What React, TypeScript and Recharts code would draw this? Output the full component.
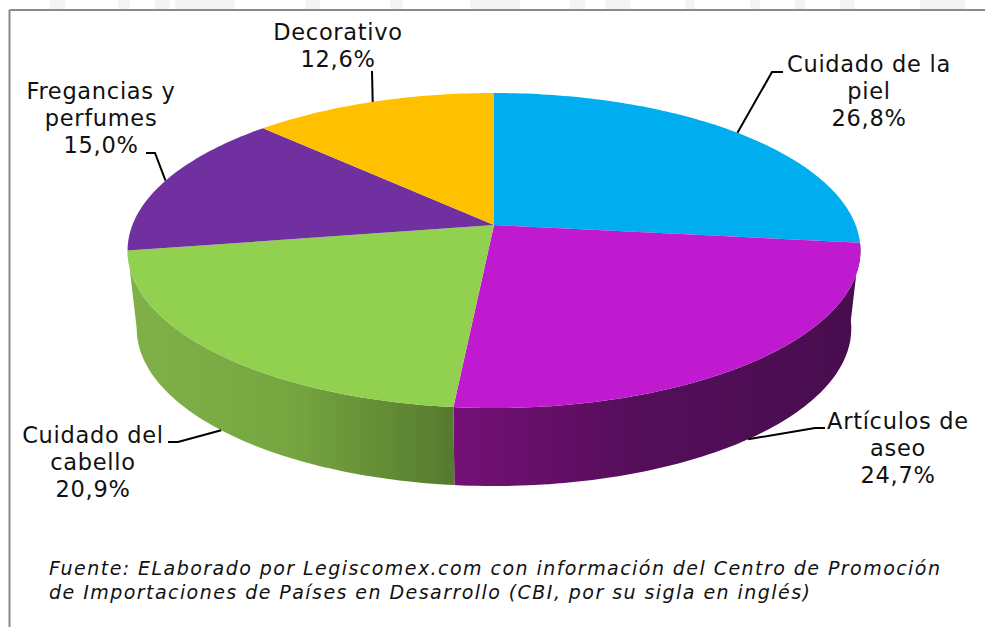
import React from "react";
import { PieChart, Pie, Cell } from "recharts";

const categories = ["Cuidado de la piel", "Artículos de aseo", "Cuidado del cabello", "Fregancias y perfumes", "Decorativo"];
const shares = [26.8, 24.7, 20.9, 15.0, 12.6];
const labelLines = [
  ["Cuidado de la", "piel", "26,8%"],
  ["Artículos de", "aseo", "24,7%"],
  ["Cuidado del", "cabello", "20,9%"],
  ["Fregancias y", "perfumes", "15,0%"],
  ["Decorativo", "12,6%"],
];
const sliceColors = ["#00aeef", "#c01ad0", "#92d050", "#7030a0", "#ffc000"];
const wallColors = ["none", "url(#wallMagenta)", "url(#wallGreen)", "none", "none"];
const footnote = [
  "Fuente: ELaborado por Legiscomex.com con información del Centro de Promoción",
  "de Importaciones de Países en Desarrollo (CBI, por su sigla en inglés)",
];

const data = categories.map((name, i) => ({ name, value: shares[i] }));

// label block anchor (centre x, first baseline) and the elbow of each leader line
const labelPos = [
  { x: 869, y: 72, elbow: [772, 72], end: [783, 72] },
  { x: 898, y: 429, elbow: [815, 428], end: [825, 428] },
  { x: 93, y: 443, elbow: [178, 442], end: [168, 442] },
  { x: 101, y: 99, elbow: [155, 153], end: [146, 153] },
  { x: 338, y: 40, elbow: [372, 71], end: [372, 71] },
];

// bottoms of the faint watermark letters cut off above the frame: [x, width]
const watermark = [
  [50, 15], [118, 12], [155, 15], [175, 60], [305, 15], [390, 13], [470, 50],
  [570, 15], [605, 25], [685, 10], [750, 10], [795, 10], [840, 15], [920, 45],
];

const FONT = "'DejaVu Sans', Verdana, sans-serif";
const TILT = 0.4242;
const PERSPECTIVE = 0.162;
const WALL_DROP = 78;
const WALL_SHRINK = 0.975;
const RAD = Math.PI / 180;

// the library gives a flat circle sector, this tips it back in perspective
function project(cx: number, cy: number, r: number, angle: number) {
  const u = Math.cos(angle * RAD);
  const v = Math.sin(angle * RAD);
  const d = 1 + PERSPECTIVE * v;
  return { x: cx + (r * u) / d, y: cy - (r * TILT * v) / d };
}

function toWall(p: { x: number; y: number }, cx: number) {
  return { x: cx + (p.x - cx) * WALL_SHRINK, y: p.y + WALL_DROP };
}

function sampleAngles(start: number, end: number) {
  const n = Math.max(2, Math.ceil(Math.abs(end - start)));
  return Array.from({ length: n + 1 }, (_, i) => start + ((end - start) * i) / n);
}

function TopSlice(props: any) {
  const { cx, cy, outerRadius, startAngle, endAngle, fill } = props;
  const pts = sampleAngles(startAngle, endAngle).map((a) => project(cx, cy, outerRadius, a));
  const d = `M${cx},${cy} ` + pts.map((p) => `L${p.x.toFixed(2)},${p.y.toFixed(2)}`).join(" ") + " Z";
  return <path d={d} fill={fill} stroke="none" />;
}

function WallSlice(props: any) {
  const { cx, cy, outerRadius, startAngle, endAngle, fill } = props;
  if (fill === "none") return <g />;
  const top = sampleAngles(startAngle, endAngle).map((a) => project(cx, cy, outerRadius, a));
  const bottom = top.map((p) => toWall(p, cx)).reverse();
  const d = [...top, ...bottom].map((p, i) => `${i ? "L" : "M"}${p.x.toFixed(2)},${p.y.toFixed(2)}`).join(" ") + " Z";
  return <path d={d} fill={fill} stroke="none" />;
}

function SliceLabel(props: any) {
  const { cx, cy, outerRadius, midAngle, index } = props;
  const pos = labelPos[index];
  const onWall = index === 1 || index === 2;
  const rim = project(cx, cy, outerRadius, midAngle);
  const start = onWall ? toWall(rim, cx) : rim;
  return (
    <g>
      <polyline
        points={`${start.x},${start.y} ${pos.elbow[0]},${pos.elbow[1]} ${pos.end[0]},${pos.end[1]}`}
        fill="none"
        stroke="#000"
        strokeWidth={2}
      />
      <text x={pos.x} y={pos.y} textAnchor="middle" fontFamily={FONT} fontSize={22.5} letterSpacing={0.7} fill="#111">
        {labelLines[index].map((line, i) => (
          <tspan key={i} x={pos.x} dy={i === 0 ? 0 : 27}>
            {line}
          </tspan>
        ))}
      </text>
    </g>
  );
}

export default function App() {
  return (
    <div style={{ position: "absolute", left: 0, top: 0, width: 985, height: 627, background: "#fff" }}>
      <PieChart width={985} height={627} margin={{ top: 0, right: 0, bottom: 0, left: 0 }}>
        <defs>
          <linearGradient id="wallMagenta" gradientUnits="userSpaceOnUse" x1={453} y1={0} x2={860} y2={0}>
            <stop offset="0%" stopColor="#751077" />
            <stop offset="45%" stopColor="#550e5a" />
            <stop offset="100%" stopColor="#470d4e" />
          </linearGradient>
          <linearGradient id="wallGreen" gradientUnits="userSpaceOnUse" x1={130} y1={0} x2={453} y2={0}>
            <stop offset="0%" stopColor="#80b048" />
            <stop offset="50%" stopColor="#76a640" />
            <stop offset="100%" stopColor="#567a2e" />
          </linearGradient>
        </defs>
        {watermark.map(([x, w]) => (
          <rect key={x} x={x} y={0} width={w} height={9} fill="#f4f4f4" />
        ))}
        <line x1={9.5} y1={10} x2={985} y2={10} stroke="#8a8a8a" strokeWidth={2} />
        <line x1={9.5} y1={10} x2={9.5} y2={627} stroke="#8a8a8a" strokeWidth={2} />
        <Pie
          data={data}
          dataKey="value"
          cx={494}
          cy={225}
          outerRadius={361.6}
          startAngle={90}
          endAngle={-270}
          stroke="none"
          isAnimationActive={false}
          shape={WallSlice}
          label={false}
          labelLine={false}
        >
          {data.map((d, i) => (
            <Cell key={d.name} fill={wallColors[i]} />
          ))}
        </Pie>
        <Pie
          data={data}
          dataKey="value"
          cx={494}
          cy={225}
          outerRadius={361.6}
          startAngle={90}
          endAngle={-270}
          stroke="none"
          isAnimationActive={false}
          shape={TopSlice}
          label={SliceLabel}
          labelLine={false}
        >
          {data.map((d, i) => (
            <Cell key={d.name} fill={sliceColors[i]} />
          ))}
        </Pie>
        <text x={49} y={575} fontFamily={FONT} fontStyle="italic" fontSize={19} letterSpacing={1.45} fill="#111">
          <tspan x={49}>{footnote[0]}</tspan>
          <tspan x={49} dy={23.5}>{footnote[1]}</tspan>
        </text>
      </PieChart>
    </div>
  );
}
